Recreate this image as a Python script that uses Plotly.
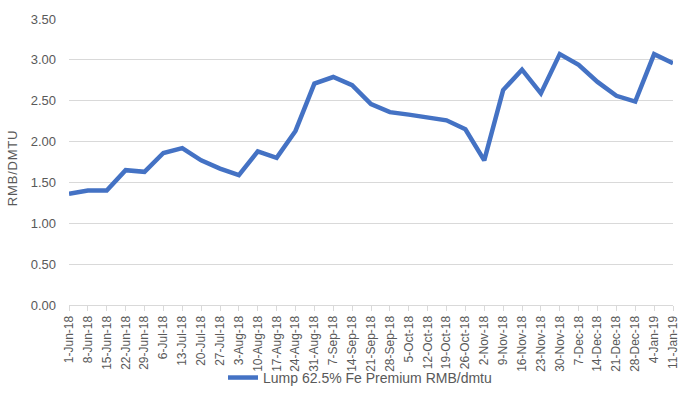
import plotly.graph_objects as go

dates = ["1-Jun-18", "8-Jun-18", "15-Jun-18", "22-Jun-18", "29-Jun-18",
         "6-Jul-18", "13-Jul-18", "20-Jul-18", "27-Jul-18",
         "3-Aug-18", "10-Aug-18", "17-Aug-18", "24-Aug-18", "31-Aug-18",
         "7-Sep-18", "14-Sep-18", "21-Sep-18", "28-Sep-18",
         "5-Oct-18", "12-Oct-18", "19-Oct-18", "26-Oct-18",
         "2-Nov-18", "9-Nov-18", "16-Nov-18", "23-Nov-18", "30-Nov-18",
         "7-Dec-18", "14-Dec-18", "21-Dec-18", "28-Dec-18",
         "4-Jan-19", "11-Jan-19"]
premium = [1.36, 1.40, 1.40, 1.65, 1.63,
           1.86, 1.92, 1.77, 1.67,
           1.59, 1.88, 1.80, 2.13, 2.71,
           2.79, 2.69, 2.46, 2.36,
           2.33, 2.30, 2.26, 2.15,
           1.77, 2.63, 2.88, 2.59, 3.07,
           2.94, 2.73, 2.56, 2.49,
           3.07, 2.96]
series_name = "Lump 62.5% Fe Premium RMB/dmtu"
y_ticks = [0, 0.5, 1.0, 1.5, 2.0, 2.5, 3.0, 3.5]

font_family = "Liberation Sans, Arial, sans-serif"
grey = "#595959"

fig = go.Figure()
fig.add_trace(go.Scatter(
    x=list(range(len(dates))), y=premium, mode="lines", name=series_name,
    line=dict(color="#4472C4", width=4.5),
))

fig.update_layout(
    width=692, height=414,
    margin=dict(l=69, r=15, t=19, b=109),
    paper_bgcolor="white", plot_bgcolor="white",
    font=dict(family=font_family, size=12, color=grey),
    showlegend=True,
    legend=dict(orientation="h", x=0.255, xanchor="left", y=-0.255, yanchor="middle",
                bgcolor="rgba(0,0,0,0)", font=dict(size=14, color=grey)),
    xaxis=dict(
        range=[0, len(dates) - 1],
        tickmode="array", tickvals=list(range(len(dates))), ticktext=dates,
        tickangle=-90, ticks="outside", ticklen=5, tickcolor="#d9d9d9",
        showgrid=False, showline=True, linecolor="#d9d9d9", linewidth=1,
        zeroline=False, tickfont=dict(size=12, color=grey),
    ),
    yaxis=dict(
        range=[0, 3.5], tickvals=y_ticks,
        ticktext=[f"{v:.2f}" for v in y_ticks],
        showgrid=True, gridcolor="#d9d9d9", gridwidth=1,
        zeroline=False, showline=False, ticks="",
        ticklabelstandoff=12,
        tickfont=dict(size=13, color=grey),
    ),
    annotations=[dict(
        text="RMB/DMTU", xref="paper", yref="paper", x=-0.094, y=0.48,
        textangle=-90, showarrow=False, font=dict(size=13, color=grey),
        xanchor="center", yanchor="middle",
    )],
)

post = """
document.body.style.margin='0';
var st=document.createElement('style');
st.textContent='.annotation-text{letter-spacing:0.8px}';
document.head.appendChild(st);
"""
fig.write_html("out.html", post_script=post, config={"displayModeBar": False})
